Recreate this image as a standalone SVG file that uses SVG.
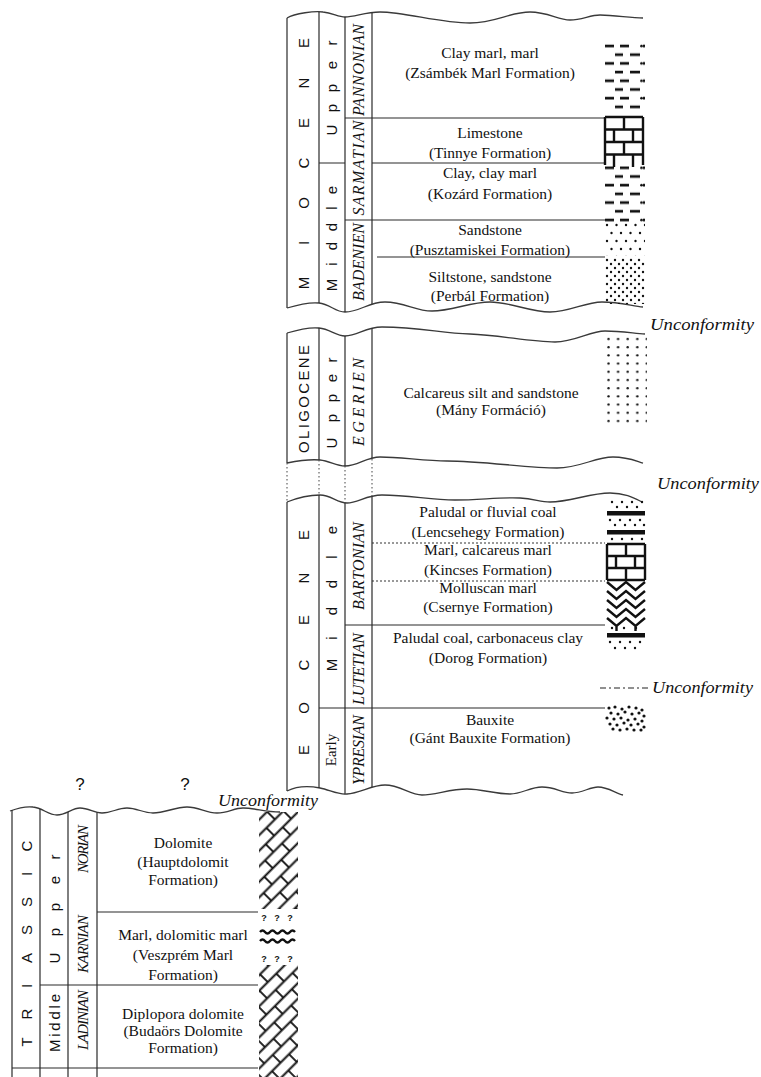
<svg xmlns="http://www.w3.org/2000/svg" width="761" height="1077" viewBox="0 0 761 1077">
<style>
.ln{fill:none;stroke:#2a2a2a;stroke-width:1.2}
.wv{fill:none;stroke:#3a3a3a;stroke-width:1.3}
.dt{fill:none;stroke:#555;stroke-width:1.1;stroke-dasharray:1.5,2.5}
.hd{fill:none;stroke:#333;stroke-width:1;stroke-dasharray:2,2}
.t{font-family:"Liberation Serif","Times New Roman",serif;font-size:15.5px;text-anchor:middle;fill:#111}
.ep{font-family:"Liberation Sans",Arial,sans-serif;font-size:15px;text-anchor:middle;dominant-baseline:central;fill:#111}
.er{font-family:"Liberation Serif","Times New Roman",serif;font-size:15px;text-anchor:middle;dominant-baseline:central;fill:#111}
.st{font-family:"Liberation Serif","Times New Roman",serif;font-style:italic;font-size:16px;text-anchor:middle;dominant-baseline:central;fill:#111}
.st2{font-size:15px}
.un{font-family:"Liberation Serif","Times New Roman",serif;font-style:italic;font-size:17px;fill:#111}
.q{font-family:"Liberation Sans",Arial,sans-serif;font-size:17px;text-anchor:middle;fill:#111}
.qs{font-family:"Liberation Sans",Arial,sans-serif;font-size:9px;font-weight:bold;text-anchor:middle;fill:#111}
.sym{fill:none;stroke:#111;stroke-width:2.4}
.dk{fill:#111}
</style>
<defs>
<pattern id="clay" patternUnits="userSpaceOnUse" x="605" y="42" width="38" height="17.4">
<path d="M0,4H9M15,4H24M10,12.7H18M25,12.7H35" stroke="#111" stroke-width="2.6"/>
<circle cx="36.5" cy="4" r="1.3" fill="#111"/>
</pattern>
<pattern id="sand" patternUnits="userSpaceOnUse" x="605" y="222" width="19" height="16">
<circle cx="2" cy="3" r="1.2" fill="#111"/><circle cx="11.5" cy="3" r="1.2" fill="#111"/>
<circle cx="6.5" cy="11" r="1.2" fill="#111"/><circle cx="16" cy="11" r="1.2" fill="#111"/>
</pattern>
<pattern id="silt" patternUnits="userSpaceOnUse" x="605" y="258" width="8" height="8">
<circle cx="2" cy="2" r="1.2" fill="#111"/><circle cx="6" cy="6" r="1.2" fill="#111"/>
</pattern>
<pattern id="olig" patternUnits="userSpaceOnUse" x="606" y="336" width="9.6" height="8.2">
<circle cx="2.5" cy="3" r="1.2" fill="#111"/>
</pattern>
<pattern id="dolo" patternUnits="userSpaceOnUse" x="259" y="812" width="24" height="22" patternTransform="rotate(-45 259 812)">
<path d="M0,5.5H24M0,16.5H24M6,5.5V16.5M18,16.5V22M18,0V5.5" stroke="#111" stroke-width="1.8" fill="none"/>
</pattern>
<clipPath id="cM"><path d="M287,18 C295,13 315,11 323,12 C333,13 338,17 345,17 C355,17 365,12 380,12 C405,12 440,23 470,23 C495,23 510,12 530,12 C548,12 558,20 570,20 C582,20 590,15 600,15 C615,15 630,18 643,18 L643,307 C632,306 620,302 602,302 C585,302 570,312 550,312 C530,312 510,302 490,302 C470,302 452,311 432,311 C415,311 405,302 385,302 C368,302 360,312 345,312 C335,312 330,304 319,303 C310,302 297,305 287,308 Z"/></clipPath>
<clipPath id="cO"><path d="M287,333 C297,330 310,327 319,328 C330,329 336,336 345,336 C358,336 365,327 382,327 C420,327 440,333 470,334 C500,335 530,342 555,342 C575,342 590,331 605,331 C620,331 632,333 645,334 L643,463 C636,461 628,457 613,457 C595,457 580,468 557,468 C530,468 480,461 447,461 C425,461 400,457 380,457 C366,457 358,466 345,466 C336,466 330,461 320,460 C310,459 297,461 287,463 Z"/></clipPath>
<clipPath id="cE"><path d="M287,502 C297,498 310,495 320,495 C331,495 337,503 347,503 C358,503 366,495 382,495 C410,495 430,500 455,500 C480,500 500,497 520,498 C535,499 540,502 550,502 C570,502 590,493 610,493 C625,493 634,498 642,502 L642,800 L623,795 C615,793 608,787 598,787 C590,787 582,793 572,793 C562,793 555,787 542,787 C530,787 522,794 510,794 C495,794 482,789 467,789 C450,789 435,795 422,795 C410,795 400,785 385,785 C372,785 360,793 347,794 C338,795 330,790 320,788 C310,786 297,786 287,791 Z"/></clipPath>
<clipPath id="cT"><path d="M10,811 C18,808 25,806 33,807 C43,808 48,815 57,815 C66,815 72,808 80,808 C89,808 94,813 102,813 C112,813 117,808 127,808 C137,808 143,813 153,813 C165,813 175,807 187,807 C199,807 206,813 217,813 C228,813 234,808 243,808 C255,808 265,812 280,812 L300,812 L300,1077 L10,1077 Z"/></clipPath>
</defs>
<rect width="761" height="1077" fill="#fff"/>

<g id="miocene">
<path class="wv" d="M287,18 C295,13 315,11 323,12 C333,13 338,17 345,17 C355,17 365,12 380,12 C405,12 440,23 470,23 C495,23 510,12 530,12 C548,12 558,20 570,20 C582,20 590,15 600,15 C615,15 630,18 643,18"/>
<path class="wv" d="M287,308 C297,305 310,302 319,303 C330,304 335,312 345,312 C360,312 368,302 385,302 C405,302 415,311 432,311 C452,311 470,302 490,302 C510,302 530,312 550,312 C570,312 585,302 602,302 C620,302 632,306 643,307"/>
<path class="ln" d="M287,18V308"/>
<path class="ln" clip-path="url(#cM)" d="M319,0V330M345,0V330M372,0V330"/>
<path class="ln" d="M345,118H605M319,163H345M372,163H605M345,220H605M377,257H605"/>
<text class="ep" transform="translate(303,0) rotate(-90)" x="-283 -243 -203 -163 -123 -83 -43" y="0">MIOCENE</text>
<text class="ep" transform="translate(331,0) rotate(-90)" x="-130 -108 -88 -65 -43" y="0">Upper</text>
<text class="ep" transform="translate(331,0) rotate(-90)" x="-285 -264 -246 -227 -208 -190" y="0">Middle</text>
<text class="st" transform="translate(358,70) rotate(-90)" textLength="92" lengthAdjust="spacing">PANNONIAN</text>
<text class="st" transform="translate(358,168) rotate(-90)" textLength="95" lengthAdjust="spacing">SARMATIAN</text>
<text class="st" transform="translate(358,262) rotate(-90)" textLength="78" lengthAdjust="spacing">BADENIEN</text>
<text class="t" x="490" y="58">Clay marl, marl</text>
<text class="t" x="490" y="78">(Zsámbék Marl Formation)</text>
<text class="t" x="490" y="138">Limestone</text>
<text class="t" x="490" y="158">(Tinnye Formation)</text>
<text class="t" x="490" y="178">Clay, clay marl</text>
<text class="t" x="490" y="199">(Kozárd Formation)</text>
<text class="t" x="490" y="235">Sandstone</text>
<text class="t" x="490" y="255">(Pusztamiskei Formation)</text>
<text class="t" x="490" y="282">Siltstone, sandstone</text>
<text class="t" x="490" y="301">(Perbál Formation)</text>
<rect x="605" y="42" width="40" height="71" fill="url(#clay)"/>
<path class="sym" d="M605,117H643M605,129.5H643M605,142H643M605,154.5H643M605,117V129.5M624,117V129.5M643,117V129.5M605,129.5V142M614,129.5V142M633,129.5V142M643,129.5V142M605,142V154.5M624,142V154.5M643,142V154.5M605,154.5V165M614,154.5V167M633,154.5V167M643,154.5V165"/>
<rect x="605" y="166" width="40" height="56" fill="url(#clay)"/>
<rect x="605" y="222" width="40" height="34" fill="url(#sand)"/>
<rect x="605" y="258" width="40" height="46" fill="url(#silt)"/>
</g>

<g id="oligocene">
<path class="wv" d="M287,333 C297,330 310,327 319,328 C330,329 336,336 345,336 C358,336 365,327 382,327 C420,327 440,333 470,334 C500,335 530,342 555,342 C575,342 590,331 605,331 C620,331 632,333 645,334"/>
<path class="wv" d="M287,463 C297,461 310,459 320,460 C330,461 336,466 345,466 C358,466 366,457 380,457 C400,457 425,461 447,461 C480,461 530,468 557,468 C580,468 595,457 613,457 C628,457 636,461 643,463"/>
<path class="ln" d="M287,333V463"/>
<path class="ln" clip-path="url(#cO)" d="M319,300V480M345,300V480M372,300V480"/>
<text class="ep" transform="translate(303,399) rotate(-90)" textLength="108" lengthAdjust="spacing">OLIGOCENE</text>
<text class="ep" transform="translate(331,0) rotate(-90)" x="-443 -418 -398 -378 -360" y="0">Upper</text>
<text class="st" transform="translate(358,402) rotate(-90)" textLength="88" lengthAdjust="spacing">EGERIEN</text>
<text class="t" x="491" y="398">Calcareus silt and sandstone</text>
<text class="t" x="491" y="415">(Mány Formáció)</text>
<rect x="606" y="336" width="41" height="90" fill="url(#olig)"/>
</g>

<g id="eocene">
<path class="wv" d="M287,502 C297,498 310,495 320,495 C331,495 337,503 347,503 C358,503 366,495 382,495 C410,495 430,500 455,500 C480,500 500,497 520,498 C535,499 540,502 550,502 C570,502 590,493 610,493 C625,493 634,498 642,502"/>
<path class="wv" d="M287,791 C297,786 310,786 320,788 C330,790 338,795 347,794 C360,793 372,785 385,785 C400,785 410,795 422,795 C435,795 450,789 467,789 C482,789 495,794 510,794 C522,794 530,787 542,787 C555,787 562,793 572,793 C582,793 590,787 598,787 C608,787 615,793 623,795"/>
<path class="ln" d="M287,502V791"/>
<path class="ln" clip-path="url(#cE)" d="M319,480V810M345,480V810M372,480V810"/>
<path class="hd" d="M372,543H605M372,581H605"/>
<path class="ln" d="M345,625H605M319,708H605"/>
<text class="ep" transform="translate(303,0) rotate(-90)" x="-750 -708 -665 -620 -578 -535" y="0">EOCENE</text>
<text class="ep" transform="translate(331,0) rotate(-90)" x="-665 -638 -611 -584 -557 -530" y="0">Middle</text>
<text class="er" transform="translate(331,750) rotate(-90)">Early</text>
<text class="st" transform="translate(358,566) rotate(-90)" textLength="88" lengthAdjust="spacing">BARTONIAN</text>
<text class="st" transform="translate(358,669) rotate(-90)" textLength="72" lengthAdjust="spacing">LUTETIAN</text>
<text class="st" transform="translate(358,750) rotate(-90)" textLength="70" lengthAdjust="spacing">YPRESIAN</text>
<text class="t" x="488" y="517">Paludal or fluvial coal</text>
<text class="t" x="488" y="537">(Lencsehegy Formation)</text>
<text class="t" x="488" y="555">Marl, calcareus marl</text>
<text class="t" x="488" y="575">(Kincses Formation)</text>
<text class="t" x="488" y="593">Molluscan marl</text>
<text class="t" x="488" y="612">(Csernye Formation)</text>
<text class="t" x="488" y="643">Paludal coal, carbonaceus clay</text>
<text class="t" x="488" y="663">(Dorog Formation)</text>
<text class="t" x="490" y="725">Bauxite</text>
<text class="t" x="490" y="743">(Gánt Bauxite Formation)</text>
<g class="dk">
<circle cx="612" cy="502" r="1.2"/><circle cx="622" cy="502" r="1.2"/><circle cx="632" cy="502" r="1.2"/><circle cx="642" cy="502" r="1.2"/>
<circle cx="617" cy="507" r="1.2"/><circle cx="627" cy="507" r="1.2"/><circle cx="637" cy="507" r="1.2"/>
<rect x="607" y="511" width="38" height="4.5"/>
<circle cx="610" cy="520" r="1.2"/><circle cx="620" cy="520" r="1.2"/><circle cx="630" cy="520" r="1.2"/><circle cx="640" cy="520" r="1.2"/>
<circle cx="615" cy="525" r="1.2"/><circle cx="625" cy="525" r="1.2"/><circle cx="635" cy="525" r="1.2"/><circle cx="644" cy="525" r="1.2"/>
<rect x="607" y="530" width="38" height="4.5"/>
<circle cx="612" cy="539" r="1.2"/><circle cx="622" cy="539" r="1.2"/><circle cx="632" cy="539" r="1.2"/><circle cx="642" cy="539" r="1.2"/>
<circle cx="612" cy="628" r="1.2"/><circle cx="624" cy="628" r="1.2"/><circle cx="636" cy="628" r="1.2"/>
<rect x="607" y="633" width="38" height="4.5"/>
<circle cx="610" cy="642" r="1.2"/><circle cx="620" cy="642" r="1.2"/><circle cx="630" cy="642" r="1.2"/><circle cx="640" cy="642" r="1.2"/>
<circle cx="615" cy="648" r="1.2"/><circle cx="625" cy="648" r="1.2"/><circle cx="635" cy="648" r="1.2"/>
</g>
<path class="sym" d="M607,544H645M607,556H645M607,568H645M607,580H645M607,544V556M626,544V556M645,544V556M607,556V568M616,556V568M635,556V568M645,556V568M607,568V580M626,568V580M645,568V580"/>
<path class="sym" stroke-width="2" d="M607,582L616.5,590L626,582L635.5,590L645,582M607,591L616.5,599L626,591L635.5,599L645,591M607,600L616.5,608L626,600L635.5,608L645,600M607,609L616.5,617L626,609L635.5,617L645,609M607,618L616.5,626L626,618L635.5,626L645,618M616.5,626V631M635.5,626V631"/>
<g class="dk">
<circle cx="609" cy="708" r="1.6"/><circle cx="615" cy="707" r="1.6"/><circle cx="622" cy="709" r="1.6"/><circle cx="629" cy="707" r="1.6"/><circle cx="636" cy="708" r="1.6"/><circle cx="642" cy="710" r="1.6"/>
<circle cx="611" cy="713" r="1.6"/><circle cx="618" cy="714" r="1.6"/><circle cx="625" cy="712" r="1.6"/><circle cx="632" cy="714" r="1.6"/><circle cx="639" cy="713" r="1.6"/><circle cx="644" cy="716" r="1.6"/>
<circle cx="607" cy="718" r="1.6"/><circle cx="614" cy="719" r="1.6"/><circle cx="621" cy="718" r="1.6"/><circle cx="628" cy="720" r="1.6"/><circle cx="635" cy="719" r="1.6"/><circle cx="642" cy="721" r="1.6"/>
<circle cx="610" cy="724" r="1.6"/><circle cx="617" cy="725" r="1.6"/><circle cx="624" cy="723" r="1.6"/><circle cx="631" cy="725" r="1.6"/><circle cx="638" cy="724" r="1.6"/><circle cx="644" cy="727" r="1.6"/>
<circle cx="613" cy="729" r="1.6"/><circle cx="620" cy="730" r="1.6"/><circle cx="627" cy="729" r="1.6"/><circle cx="634" cy="730" r="1.6"/><circle cx="641" cy="730" r="1.6"/>
</g>
</g>

<g id="triassic">
<path class="wv" d="M10,811 C18,808 25,806 33,807 C43,808 48,815 57,815 C66,815 72,808 80,808 C89,808 94,813 102,813 C112,813 117,808 127,808 C137,808 143,813 153,813 C165,813 175,807 187,807 C199,807 206,813 217,813 C228,813 234,808 243,808 C255,808 265,812 280,812"/>
<path class="ln" d="M12,810V1077"/>
<path class="ln" clip-path="url(#cT)" d="M40,800V1077M68,800V1077M97,800V1077"/>
<path class="ln" d="M97,912H258M40,985H258M12,1068H258"/>
<text class="ep" transform="translate(26,0) rotate(-90)" x="-1042 -1014 -986 -958 -930 -902 -874 -846" y="0">TRIASSIC</text>
<text class="ep" transform="translate(54,0) rotate(-90)" x="-958 -932 -907 -880 -857" y="0">Upper</text>
<text class="ep" transform="translate(54,1023) rotate(-90)" textLength="58" lengthAdjust="spacing">Middle</text>
<text class="st st2" transform="translate(83,849) rotate(-90)" textLength="48" lengthAdjust="spacing">NORIAN</text>
<text class="st st2" transform="translate(83,944) rotate(-90)" textLength="58" lengthAdjust="spacing">KARNIAN</text>
<text class="st st2" transform="translate(83,1020) rotate(-90)" textLength="60" lengthAdjust="spacing">LADINIAN</text>
<text class="t" x="183" y="848">Dolomite</text>
<text class="t" x="183" y="867">(Hauptdolomit</text>
<text class="t" x="183" y="885">Formation)</text>
<text class="t" x="183" y="940">Marl, dolomitic marl</text>
<text class="t" x="183" y="960">(Veszprém Marl</text>
<text class="t" x="183" y="980">Formation)</text>
<text class="t" x="183" y="1019">Diplopora dolomite</text>
<text class="t" x="183" y="1036">(Budaörs Dolomite</text>
<text class="t" x="183" y="1053">Formation)</text>
<rect x="259" y="812" width="39" height="97" fill="url(#dolo)"/>
<text class="qs" x="264" y="921">?</text><text class="qs" x="277" y="921">?</text><text class="qs" x="290" y="921">?</text>
<path class="sym" stroke-width="1.4" d="M260,932 q2.5,-3 5,0 t5,0 t5,0 t5,0 t5,0 t5,0 t5,0M260,941 q2.5,-3 5,0 t5,0 t5,0 t5,0 t5,0 t5,0 t5,0"/>
<text class="qs" x="264" y="962">?</text><text class="qs" x="277" y="962">?</text><text class="qs" x="290" y="962">?</text>
<rect x="259" y="965" width="39" height="112" fill="url(#dolo)"/>
<text class="q" x="80" y="790">?</text>
<text class="q" x="185" y="790">?</text>
</g>

<g id="connectors">
<path class="dt" d="M287,463V502M319,460V495M345,466V503M372,459V497"/>
</g>

<g id="labels">
<text class="un" x="650" y="330" textLength="104" lengthAdjust="spacingAndGlyphs">Unconformity</text>
<text class="un" x="657" y="489" textLength="102" lengthAdjust="spacingAndGlyphs">Unconformity</text>
<path fill="none" stroke="#222" stroke-width="1.2" stroke-dasharray="6,3,2,3" d="M600,688H649"/>
<text class="un" x="652" y="693" textLength="101" lengthAdjust="spacingAndGlyphs">Unconformity</text>
<text class="un" x="218" y="806" textLength="100" lengthAdjust="spacingAndGlyphs">Unconformity</text>
</g>
</svg>
